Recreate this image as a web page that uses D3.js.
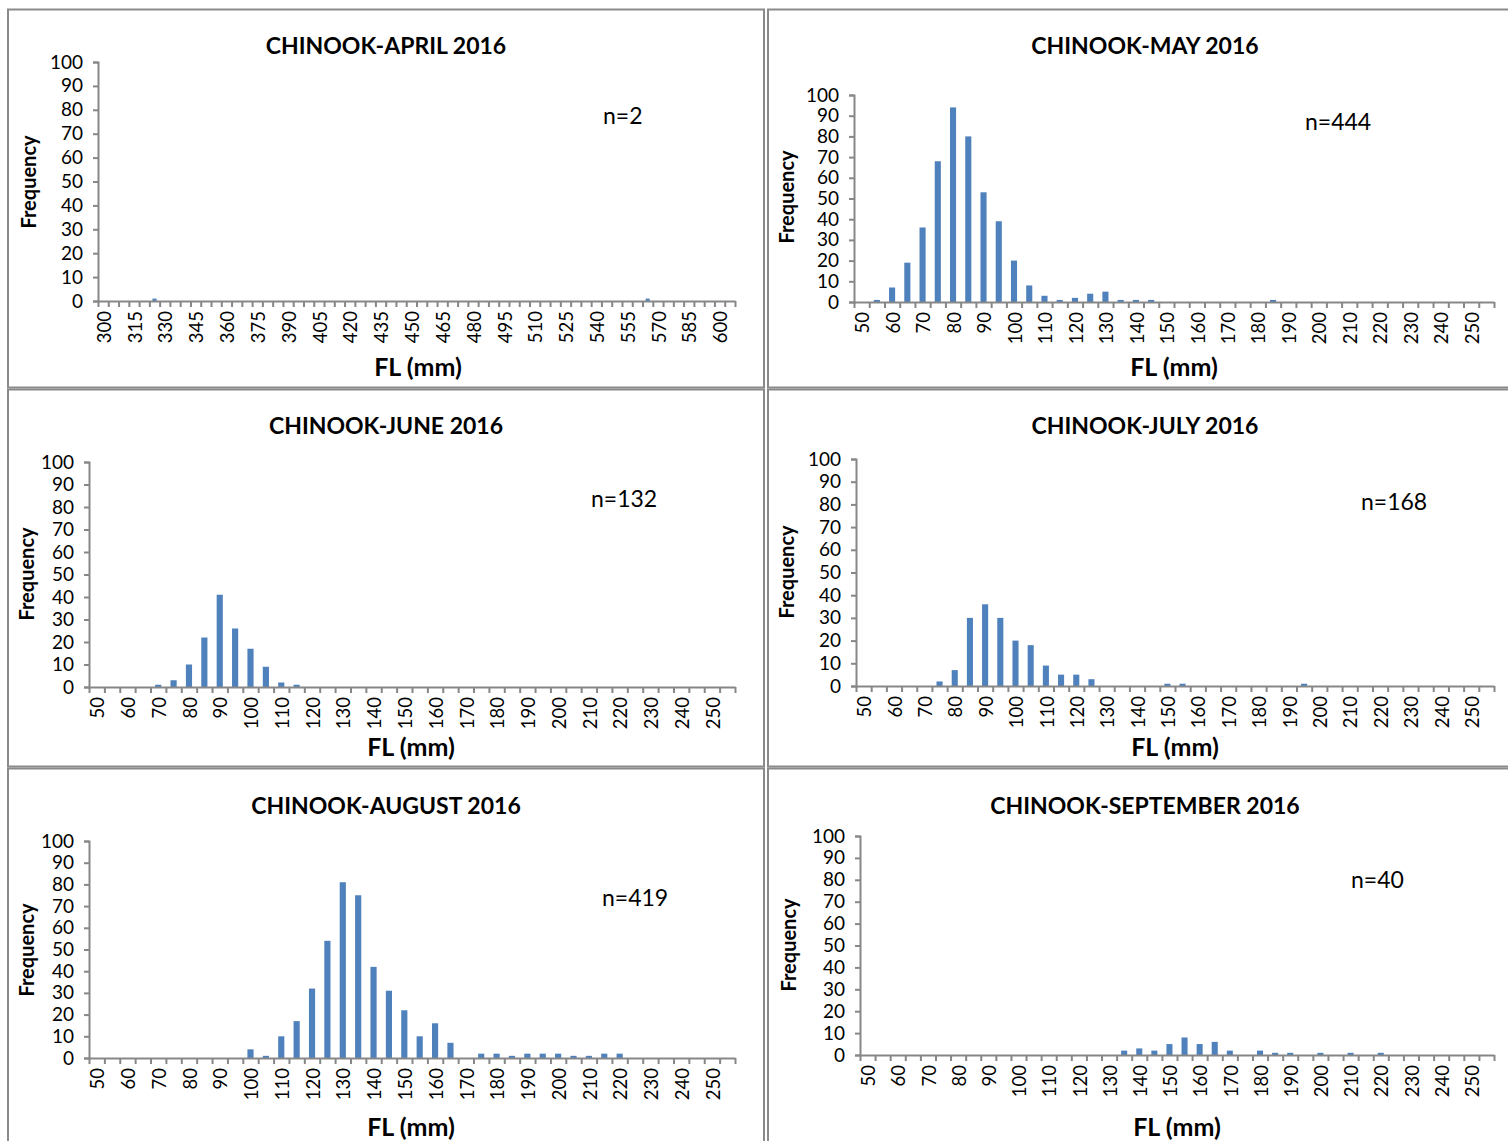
<!DOCTYPE html>
<html>
<head>
<meta charset="utf-8">
<script src="https://cdn.jsdelivr.net/npm/d3@7"></script>
<style>
  html, body { margin: 0; padding: 0; background: #fff; }
  svg { display: block; }
  text { font-family: Lato, "Open Sans", sans-serif; fill: #000; }
</style>
</head>
<body>
<svg id="chart" width="1508" height="1141"></svg>
<script>
// Fork-length bins (mm), 5 mm wide
const binsApril = d3.range(300, 610, 5);   // 300 … 605
const binsSummer = d3.range(50, 260, 5);   // 50 … 255

// Y-axis tick labels (frequency)
const freqTicks = [0, 10, 20, 30, 40, 50, 60, 70, 80, 90, 100];

// Monthly titles and sample sizes
const titles = ["CHINOOK-APRIL 2016", "CHINOOK-MAY 2016", "CHINOOK-JUNE 2016",
                "CHINOOK-JULY 2016", "CHINOOK-AUGUST 2016", "CHINOOK-SEPTEMBER 2016"];
const sampleSizes = [2, 444, 132, 168, 419, 40];

// Frequency counts per bin
const countsApril = [0,0,0,0,0,1,0,0,0,0, 0,0,0,0,0,0,0,0,0,0,
                     0,0,0,0,0,0,0,0,0,0, 0,0,0,0,0,0,0,0,0,0,
                     0,0,0,0,0,0,0,0,0,0, 0,0,0,1,0,0,0,0,0,0,
                     0,0];
const countsMay = [0,1,7,19,36,68,94,80,53,39, 20,8,3,1,2,4,5,1,1,1,
                   0,0,0,0,0,0,0,1,0,0, 0,0,0,0,0,0,0,0,0,0, 0,0];
const countsJune = [0,0,0,0,1,3,10,22,41,26, 17,9,2,1,0,0,0,0,0,0,
                    0,0,0,0,0,0,0,0,0,0, 0,0,0,0,0,0,0,0,0,0, 0,0];
const countsJuly = [0,0,0,0,0,2,7,30,36,30, 20,18,9,5,5,3,0,0,0,0,
                    1,1,0,0,0,0,0,0,0,1, 0,0,0,0,0,0,0,0,0,0, 0,0];
const countsAugust = [0,0,0,0,0,0,0,0,0,0, 4,1,10,17,32,54,81,75,42,31,
                      22,10,16,7,0,2,2,1,2,2, 2,1,1,2,2,0,0,0,0,0, 0,0];
const countsSeptember = [0,0,0,0,0,0,0,0,0,0, 0,0,0,0,0,0,0,2,3,2,
                         5,8,5,6,2,0,2,1,1,0, 1,0,1,0,1,0,0,0,0,0, 0,0];

const seriesList = [countsApril, countsMay, countsJune, countsJuly, countsAugust, countsSeptember];
const binsList = [binsApril, binsSummer, binsSummer, binsSummer, binsSummer, binsSummer];

// Layout of each panel: frame, plot area and label anchors
const layout = [
  { frame: [8, 9.5, 756, 378],  plot: [98, 735, 62, 301],   labelEvery: 3,
    title: [386, 54], n: [603, 124], freq: [29, 182], fl: [418, 376] },
  { frame: [768, 9.5, 760, 378], plot: [854, 1494, 95, 302], labelEvery: 2,
    title: [1145, 54], n: [1305, 130], freq: [787, 197], fl: [1174, 376] },
  { frame: [8, 389.5, 756, 377], plot: [89, 735, 462, 687],  labelEvery: 2,
    title: [386, 434], n: [591, 507], freq: [27, 574], fl: [411, 756] },
  { frame: [768, 389.5, 760, 377], plot: [856, 1494, 459, 686], labelEvery: 2,
    title: [1145, 434], n: [1361, 510], freq: [787, 572], fl: [1175, 756] },
  { frame: [8, 768.5, 756, 400], plot: [89, 735, 841, 1058], labelEvery: 2,
    title: [386, 814], n: [602, 906], freq: [27, 950], fl: [411, 1136] },
  { frame: [768, 768.5, 760, 400], plot: [860, 1494, 836, 1055], labelEvery: 2,
    title: [1145, 814], n: [1351, 888], freq: [789, 945], fl: [1177, 1136] }
];

const axisColor = "#878787";
const barColor = "#4F81BD";

const svg = d3.select("#chart");

layout.forEach((L, i) => {
  const bins = binsList[i];
  const counts = seriesList[i];
  const [x0, x1, yTop, yBase] = L.plot;
  const g = svg.append("g");

  // panel frame
  g.append("rect")
    .attr("x", L.frame[0]).attr("y", L.frame[1])
    .attr("width", L.frame[2]).attr("height", L.frame[3])
    .attr("fill", "none").attr("stroke", "#8a8a8a").attr("stroke-width", 2);

  // scales
  const x = d3.scaleBand().domain(bins).range([x0, x1])
    .paddingInner(0.6).paddingOuter(0.3);
  const xEdge = d3.scaleLinear().domain([0, bins.length]).range([x0, x1]);
  const y = d3.scaleLinear().domain([0, 100]).range([yBase, yTop]);

  // bars
  g.append("g").selectAll("rect")
    .data(bins.map((b, k) => ({ bin: b, v: counts[k] })).filter(d => d.v > 0))
    .join("rect")
    .attr("x", d => x(d.bin))
    .attr("width", x.bandwidth())
    .attr("y", d => y(d.v))
    .attr("height", d => y(0) - y(d.v))
    .attr("fill", barColor);

  // y axis
  const yAxis = g.append("g")
    .attr("transform", `translate(${x0},0)`)
    .call(d3.axisLeft(y).tickValues(freqTicks).tickSize(5).tickPadding(10));
  yAxis.select(".domain").attr("stroke", axisColor).attr("stroke-width", 2);
  yAxis.selectAll(".tick line").attr("stroke", axisColor).attr("stroke-width", 2);
  yAxis.selectAll("text").style("font-size", "19px").attr("fill", "#000");

  // x axis: tick marks at bin edges
  const xTicks = g.append("g")
    .attr("transform", `translate(0,${yBase})`)
    .call(d3.axisBottom(xEdge).tickValues(d3.range(0, bins.length + 1))
      .tickSize(6).tickSizeOuter(0).tickFormat(""));
  xTicks.select(".domain").attr("stroke", axisColor).attr("stroke-width", 2);
  xTicks.selectAll(".tick line").attr("stroke", axisColor).attr("stroke-width", 2);

  // x axis: rotated bin labels
  const labelBins = bins.filter((b, k) => k % L.labelEvery === 0);
  const xLabels = g.append("g")
    .attr("transform", `translate(0,${yBase})`)
    .call(d3.axisBottom(x).tickValues(labelBins).tickSize(0));
  xLabels.select(".domain").remove();
  xLabels.selectAll("text")
    .style("font-size", "18.5px")
    .attr("fill", "#000")
    .attr("transform", "rotate(-90)")
    .attr("text-anchor", "end")
    .attr("x", -10).attr("y", 1).attr("dy", "0.36em");

  // title
  g.append("text")
    .attr("x", L.title[0]).attr("y", L.title[1])
    .attr("text-anchor", "middle")
    .style("font-size", "23px").style("font-weight", "bold")
    .text(titles[i]);

  // sample size
  g.append("text")
    .attr("x", L.n[0]).attr("y", L.n[1])
    .style("font-size", "23px")
    .text("n=" + sampleSizes[i]);

  // axis titles
  g.append("text")
    .attr("transform", `translate(${L.freq[0]},${L.freq[1]}) rotate(-90)`)
    .attr("text-anchor", "middle").attr("dy", "0.35em")
    .style("font-size", "20px").style("font-weight", "bold")
    .text("Frequency");
  g.append("text")
    .attr("x", L.fl[0]).attr("y", L.fl[1])
    .attr("text-anchor", "middle")
    .style("font-size", "25px").style("font-weight", "bold")
    .text("FL (mm)");
});
</script>
</body>
</html>
